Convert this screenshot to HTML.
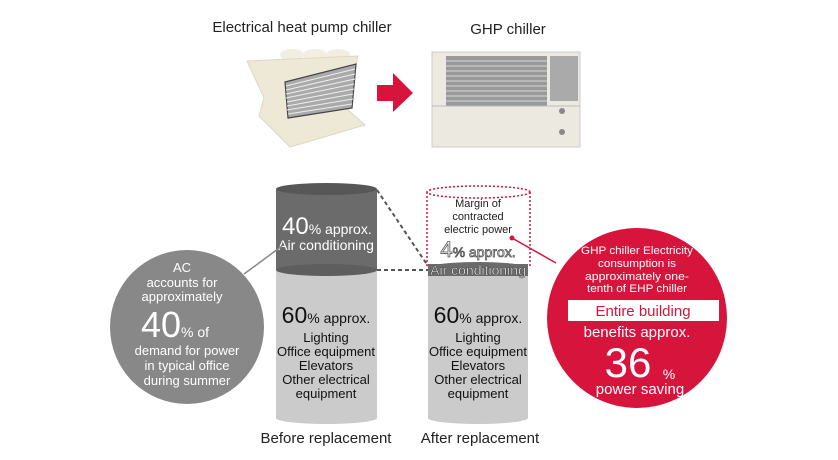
<!DOCTYPE html>
<html><head><style>
html,body{margin:0;padding:0;background:#fff;}
svg{display:block;font-family:"Liberation Sans","DejaVu Sans",sans-serif;}
</style></head><body>
<svg width="838" height="460" viewBox="0 0 838 460">
<!-- titles -->
<text x="302" y="32" font-size="15" text-anchor="middle" fill="#222">Electrical heat pump chiller</text>
<text x="508" y="34" font-size="15" text-anchor="middle" fill="#222">GHP chiller</text>
<!-- EHP unit -->
<g>
 <ellipse cx="292" cy="55" rx="12" ry="6" fill="#f2efe2"/>
 <ellipse cx="315" cy="55" rx="12" ry="6" fill="#f2efe2"/>
 <ellipse cx="338" cy="55" rx="12" ry="6" fill="#f2efe2"/>
 <polygon points="247,61 358,56 346,108 365,125 290,147 259,116 264,98" fill="#ede9d6" stroke="#ddd8c4"/>
 <polygon points="285,82 356,64 352,108 288,118" fill="#aaa" stroke="#444" stroke-width="1.2"/>
 <g stroke="#eee" stroke-width="1">
  <line x1="286" y1="86" x2="355" y2="69"/><line x1="286" y1="90" x2="355" y2="74"/>
  <line x1="286" y1="94" x2="355" y2="79"/><line x1="286" y1="98" x2="354" y2="84"/>
  <line x1="287" y1="102" x2="354" y2="89"/><line x1="287" y1="106" x2="353" y2="94"/>
  <line x1="287" y1="110" x2="353" y2="99"/><line x1="288" y1="114" x2="352" y2="104"/>
 </g>
</g>
<!-- red arrow -->
<polygon points="377,85 393,85 393,73 413,93 393,112 393,101 377,101" fill="#d6143c"/>
<!-- GHP unit -->
<g>
 <rect x="432" y="52" width="148" height="95" fill="#ebe9e0" stroke="#ccc"/>
 <rect x="446" y="56" width="101" height="50" fill="#999"/>
 <g stroke="#d8d8d8" stroke-width="1">
  <line x1="446" y1="61" x2="547" y2="61"/><line x1="446" y1="66" x2="547" y2="66"/>
  <line x1="446" y1="71" x2="547" y2="71"/><line x1="446" y1="76" x2="547" y2="76"/>
  <line x1="446" y1="81" x2="547" y2="81"/><line x1="446" y1="86" x2="547" y2="86"/>
  <line x1="446" y1="91" x2="547" y2="91"/><line x1="446" y1="96" x2="547" y2="96"/>
  <line x1="446" y1="101" x2="547" y2="101"/>
 </g>
 <rect x="550" y="56" width="28" height="45" fill="#aaa"/>
 <line x1="432" y1="106" x2="580" y2="106" stroke="#bbb"/>
 <circle cx="562" cy="111" r="3" fill="#888"/><circle cx="562" cy="132" r="3" fill="#888"/>
</g>
<!-- dashed connectors -->
<line x1="377" y1="190" x2="428" y2="266" stroke="#555" stroke-width="2" stroke-dasharray="4,3"/>
<line x1="377" y1="270" x2="428" y2="270" stroke="#555" stroke-width="2" stroke-dasharray="4,3"/>
<!-- left cylinder -->
<rect x="276" y="270" width="101" height="148" fill="#cbcbcb"/>
<ellipse cx="326.5" cy="418" rx="50.5" ry="6" fill="#cbcbcb"/>
<rect x="276" y="189" width="101" height="81" fill="#6b6b6b"/>
<ellipse cx="326.5" cy="270" rx="50.5" ry="6" fill="#5e5e5e"/>
<ellipse cx="326.5" cy="189" rx="50.5" ry="6" fill="#575757"/>
<text x="282" y="234" fill="#fff"><tspan font-size="24">40</tspan><tspan font-size="14">% approx.</tspan></text>
<text x="326" y="250" font-size="14" fill="#fff" text-anchor="middle">Air conditioning</text>
<text x="326" y="323" fill="#111" text-anchor="middle"><tspan font-size="23">60</tspan><tspan font-size="14">% approx.</tspan></text>
<g font-size="13" fill="#111" text-anchor="middle">
<text x="326" y="342">Lighting</text><text x="326" y="356">Office equipment</text>
<text x="326" y="370">Elevators</text><text x="326" y="384">Other electrical</text><text x="326" y="398">equipment</text>
</g>
<!-- right cylinder -->
<rect x="428" y="268" width="100" height="150" fill="#cbcbcb"/>
<ellipse cx="478" cy="418" rx="50" ry="6" fill="#cbcbcb"/>
<ellipse cx="478" cy="268" rx="50" ry="6" fill="#6b6b6b"/>
<rect x="428" y="264" width="100" height="12" fill="#6b6b6b"/>
<!-- dotted margin -->
<path d="M427,192 L427,268 M530,192 L530,268" stroke="#d6143c" stroke-width="1.5" stroke-dasharray="2,2" fill="none"/>
<ellipse cx="478.5" cy="192" rx="51.5" ry="6" fill="none" stroke="#d6143c" stroke-width="1.5" stroke-dasharray="2,2"/>
<g font-size="11" fill="#222" text-anchor="middle">
<text x="478" y="207">Margin of</text><text x="478" y="220">contracted</text><text x="478" y="233">electric power</text>
</g>
<text x="478" y="257" text-anchor="middle" fill="#fff" stroke="#555" stroke-width="0.8"><tspan font-size="22">4</tspan><tspan font-size="14">% approx.</tspan></text>
<text x="478" y="275" font-size="14" fill="#fff" stroke="#444" stroke-width="0.5" text-anchor="middle">Air conditioning</text>
<text x="478" y="323" fill="#111" text-anchor="middle"><tspan font-size="23">60</tspan><tspan font-size="14">% approx.</tspan></text>
<g font-size="13" fill="#111" text-anchor="middle">
<text x="478" y="342">Lighting</text><text x="478" y="356">Office equipment</text>
<text x="478" y="370">Elevators</text><text x="478" y="384">Other electrical</text><text x="478" y="398">equipment</text>
</g>
<text x="326" y="443" font-size="15" fill="#222" text-anchor="middle">Before replacement</text>
<text x="480" y="443" font-size="15" fill="#222" text-anchor="middle">After replacement</text>
<!-- gray circle -->
<line x1="244" y1="274" x2="282" y2="246" stroke="#888" stroke-width="1.5"/>
<circle cx="187" cy="327" r="77" fill="#888"/>
<g fill="#fff" text-anchor="middle" font-size="13">
<text x="182" y="272">AC</text><text x="182" y="287">accounts for</text><text x="182" y="301">approximately</text>
<text x="175" y="337"><tspan font-size="36">40</tspan><tspan font-size="14">% of</tspan></text>
<text x="187" y="355">demand for power</text><text x="187" y="370">in typical office</text><text x="187" y="385">during summer</text>
</g>
<!-- red circle -->
<line x1="512" y1="238" x2="556" y2="263" stroke="#d6143c" stroke-width="1.5"/>
<circle cx="512" cy="238" r="2.5" fill="#d6143c"/>
<circle cx="637" cy="318" r="90" fill="#d6143c"/>
<g fill="#fff" text-anchor="middle" font-size="11">
<text x="637" y="254" textLength="112" lengthAdjust="spacingAndGlyphs">GHP chiller Electricity</text>
<text x="637" y="267" textLength="78" lengthAdjust="spacingAndGlyphs">consumption is</text>
<text x="637" y="280" textLength="104" lengthAdjust="spacingAndGlyphs">approximately one-</text>
<text x="637" y="292" textLength="100" lengthAdjust="spacingAndGlyphs">tenth of EHP chiller</text>
</g>
<rect x="568" y="300" width="151" height="21" fill="#fff"/>
<text x="643" y="316" font-size="15" fill="#d6143c" text-anchor="middle">Entire building</text>
<text x="637" y="337" font-size="15" fill="#fff" text-anchor="middle">benefits approx.</text>
<text x="628" y="377" font-size="42" fill="#fff" text-anchor="middle">36</text>
<text x="669" y="379" font-size="14" fill="#fff" text-anchor="middle">%</text>
<text x="640" y="394" font-size="15" fill="#fff" text-anchor="middle">power saving</text>
</svg>
</body></html>
